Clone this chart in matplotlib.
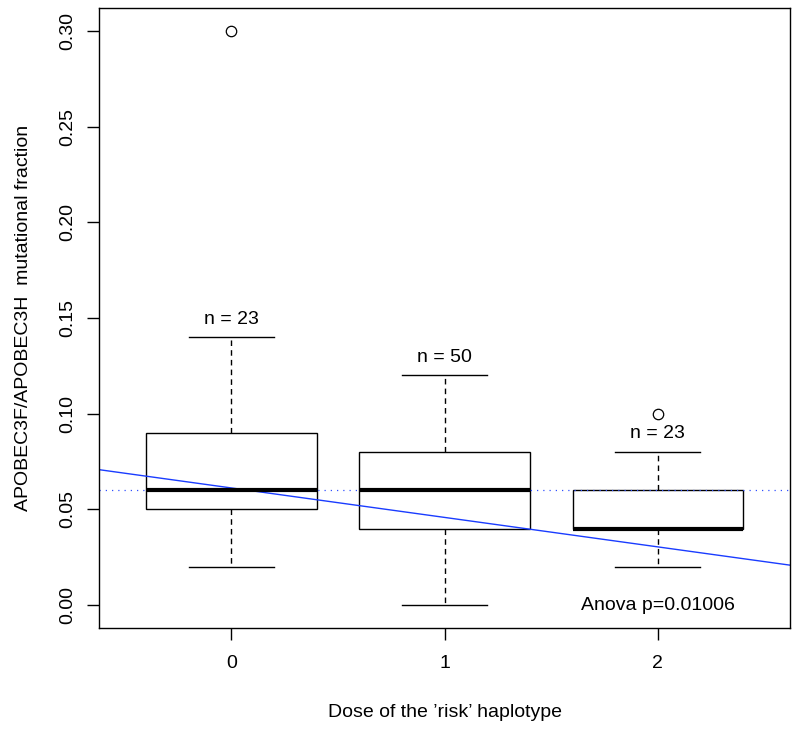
import matplotlib
matplotlib.use('Agg')
import matplotlib.pyplot as plt

plt.rcParams['font.family'] = ['Liberation Sans', 'DejaVu Sans']

doses = [0, 1, 2]
counts = [23, 50, 23]
q1 = [0.05, 0.04, 0.04]
med = [0.06, 0.06, 0.04]
q3 = [0.09, 0.08, 0.06]
whis_lo = [0.02, 0.00, 0.02]
whis_hi = [0.14, 0.12, 0.08]
fliers = [[0.30], [], [0.10]]

fit_intercept = 0.0612
fit_slope = -0.0154
overall_median = 0.06
anova_text = 'Anova p=0.01006'

stats = []
for i in range(len(doses)):
    stats.append(dict(med=med[i], q1=q1[i], q3=q3[i], whislo=whis_lo[i],
                      whishi=whis_hi[i], fliers=fliers[i], label=str(doses[i])))

fig = plt.figure(figsize=(8, 7.31), dpi=100)
ax = fig.add_axes([0.124, 0.1409, 0.8635, 0.848])

ax.bxp(stats, positions=doses, widths=0.8, patch_artist=True,
       boxprops=dict(facecolor='white', edgecolor='black', linewidth=1),
       medianprops=dict(color='black', linewidth=3, solid_capstyle='butt'),
       whiskerprops=dict(color='black', linewidth=1, linestyle=(0, (4, 3))),
       capprops=dict(color='black', linewidth=1),
       capwidths=0.4,
       flierprops=dict(marker='o', markersize=7.5, markerfacecolor='none',
                       markeredgecolor='black', markeredgewidth=0.9))

ax.set_xlim(-0.62, 2.62)
ax.set_ylim(-0.012, 0.312)

ax.axhline(overall_median, color='#3050ff', linestyle=(0, (1, 4)), linewidth=0.9)
ax.axline((0, fit_intercept), slope=fit_slope, color='#1a3cff', linewidth=1)

for i, d in enumerate(doses):
    ax.text(d, whis_hi[i] + 0.0095, 'n = %d' % counts[i], ha='center', va='center', fontsize=14)

ax.text(2, 0.0, anova_text, ha='center', va='center', fontsize=14)

ax.set_xticks(doses)
ax.set_xticklabels([str(d) for d in doses])
ax.set_yticks([0.0, 0.05, 0.10, 0.15, 0.20, 0.25, 0.30])
ax.set_yticklabels(['0.00', '0.05', '0.10', '0.15', '0.20', '0.25', '0.30'],
                   rotation=90, va='center')
ax.tick_params(axis='both', length=8.5, width=1, labelsize=14)
ax.tick_params(axis='x', pad=11)
ax.tick_params(axis='y', pad=8)
for s in ax.spines.values():
    s.set_linewidth(1)

ax.set_xlabel('Dose of the ’risk’ haplotype', fontsize=14, labelpad=23)
ax.set_ylabel('APOBEC3F/APOBEC3H  mutational fraction', fontsize=14, labelpad=20)

fig.savefig('out.png', dpi=100)
